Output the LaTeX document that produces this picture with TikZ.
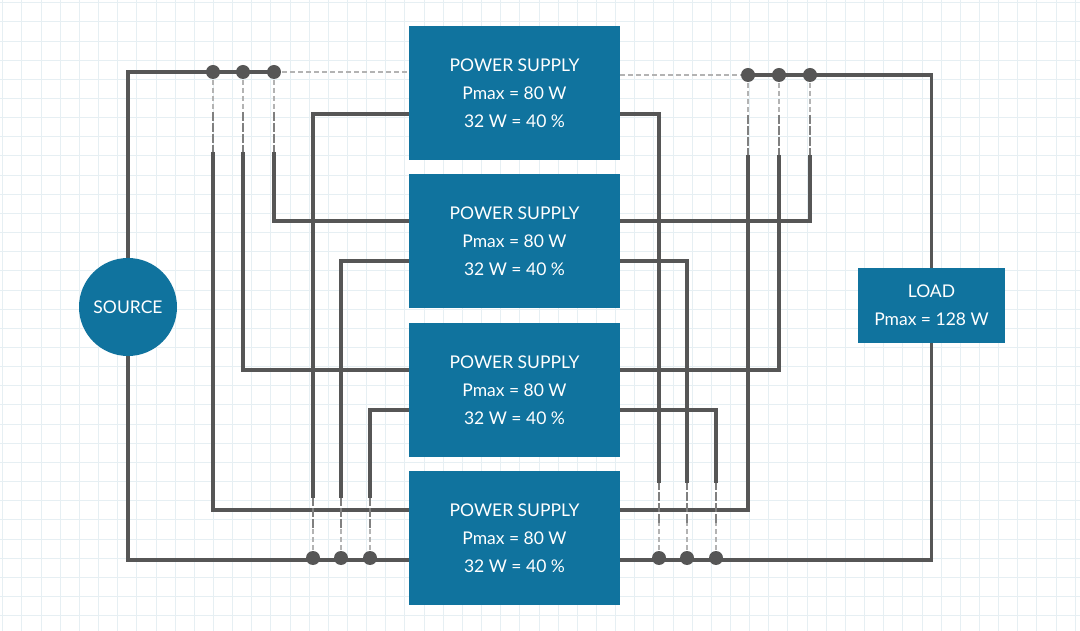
\documentclass[tikz,border=0pt]{standalone}
\usepackage{fontspec}
\setmainfont{Lato}
\usepackage{tikz}
\usetikzlibrary{positioning,backgrounds}
\definecolor{PsBlue}{HTML}{10739E}
\definecolor{WireGray}{HTML}{565656}
\definecolor{GridBlue}{HTML}{E6EFF3}
\tikzset{
  every node/.style={
    font=\fontsize{17.5}{28}\selectfont
  },
  supply/.style={
    shape=rectangle,
    fill=PsBlue,
    text=white,
    minimum width=211pt,
    minimum height=134pt,
    inner sep=0pt,
    align=center
  },
  load/.style={
    shape=rectangle,
    fill=PsBlue,
    text=white,
    minimum width=147pt,
    minimum height=75pt,
    inner sep=0pt,
    align=center
  },
  source/.style={
    shape=circle,
    fill=PsBlue,
    text=white,
    minimum size=98pt,
    inner sep=0pt
  },
  junction/.style={
    shape=circle,
    fill=WireGray,
    minimum size=14pt,
    inner sep=0pt
  },
  wire/.style={
    draw=WireGray,
    line width=3.5pt
  },
  faded/.style={
    draw=WireGray!45,
    line width=1.6pt,
    dash pattern=on 5pt off 3pt
  },
  halffaded/.style={
    draw=WireGray!75,
    line width=2.6pt,
    dash pattern=on 9pt off 2pt
  }
}

\begin{document}
\begin{tikzpicture}[x=1pt,y=1pt]
\useasboundingbox (0,0) rectangle (1080,630);

% blocks
\node [source] (src) at (128,323) {SOURCE};
\node [supply] (ps1) at (514.5,537) {POWER SUPPLY\\Pmax = 80 W\\32 W = 40 \%};
\node [supply, below=14pt of ps1] (ps2) {POWER SUPPLY\\Pmax = 80 W\\32 W = 40 \%};
\node [supply, below=14pt of ps2] (ps3) {POWER SUPPLY\\Pmax = 80 W\\32 W = 40 \%};
\node [supply, below=14pt of ps3] (ps4) {POWER SUPPLY\\Pmax = 80 W\\32 W = 40 \%};
\node [load] (load) at (931.5,324.5) {LOAD\\Pmax = 128 W};

% junctions
\node [junction] (tl1) at (213,558) {};
\node [junction] (tl2) at (243,558) {};
\node [junction] (tl3) at (274,558) {};
\node [junction] (bl1) at (313,72) {};
\node [junction] (bl2) at (341,72) {};
\node [junction] (bl3) at (370,72) {};
\node [junction] (tr1) at (748,555) {};
\node [junction] (tr2) at (779,555) {};
\node [junction] (tr3) at (810,555) {};
\node [junction] (br1) at (659,72) {};
\node [junction] (br2) at (687,72) {};
\node [junction] (br3) at (716,72) {};

\begin{scope}[on background layer]
\fill [white] (0,0) rectangle (1080,630);
\begin{scope}
\clip (0,0) rectangle (1080,630);
\draw [GridBlue, line width=0.8pt, step=19.15pt, shift={(2.7pt,14.5pt)}]
  (-20,-20) grid (1100,650);
\end{scope}

% input side
\draw [wire] (src.north) |- (tl1.center) -- (tl3.center);
\draw [faded] (tl3.center) -- ([yshift=21pt]ps1.west);
\draw [wire] (src.south) |- ([yshift=-22pt]ps4.west);
\foreach \d/\p/\s in {tl3/ps2/20.5, tl2/ps3/20, tl1/ps4/28} {
  \draw [faded] (\d.center) -- ([yshift=-40pt]\d.center);
  \draw [halffaded] ([yshift=-40pt]\d.center) -- ([yshift=-80pt]\d.center);
  \draw [wire] ([yshift=-80pt]\d.center) |- ([yshift=\s pt]\p.west);
}
\foreach \d/\p/\s in {bl1/ps1/-21, bl2/ps2/-19.5, bl3/ps3/-20} {
  \draw [faded] (\d.center) -- ([yshift=30pt]\d.center);
  \draw [halffaded] ([yshift=30pt]\d.center) -- ([yshift=60pt]\d.center);
  \draw [wire] ([yshift=60pt]\d.center) |- ([yshift=\s pt]\p.west);
}

% output side
\draw [faded] ([yshift=18pt]ps1.east) -- (tr1.center);
\draw [wire] (tr1.center) -- (tr3.center) -| (load.north);
\draw [wire] ([yshift=-22pt]ps4.east) -| (load.south);
\foreach \d/\p/\s in {tr3/ps2/20.5, tr2/ps3/20, tr1/ps4/28} {
  \draw [faded] (\d.center) -- ([yshift=-40pt]\d.center);
  \draw [halffaded] ([yshift=-40pt]\d.center) -- ([yshift=-80pt]\d.center);
  \draw [wire] ([yshift=-80pt]\d.center) |- ([yshift=\s pt]\p.east);
}
\foreach \d/\p/\s in {br1/ps1/-21, br2/ps2/-19.5, br3/ps3/-20} {
  \draw [faded] (\d.center) -- ([yshift=35pt]\d.center);
  \draw [halffaded] ([yshift=35pt]\d.center) -- ([yshift=75pt]\d.center);
  \draw [wire] ([yshift=75pt]\d.center) |- ([yshift=\s pt]\p.east);
}
\end{scope}

\end{tikzpicture}
\end{document}
